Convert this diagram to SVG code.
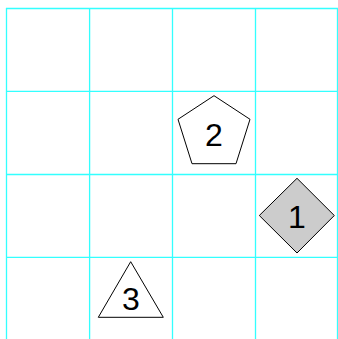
<svg xmlns="http://www.w3.org/2000/svg" width="338" height="339" viewBox="0 0 338 339">
<style>
.grid line{stroke:#33ffff;stroke-width:1.3}
.shape{stroke:#000;stroke-width:1}
.lbl{font-family:"Liberation Sans",Arial,sans-serif;font-size:32px;text-anchor:middle;fill:#000}
</style>
<rect width="338" height="339" fill="#fff"/>
<g class="grid">
<line x1="6.5" y1="8" x2="6.5" y2="339"/>
<line x1="89.6" y1="8" x2="89.6" y2="339"/>
<line x1="172.5" y1="8" x2="172.5" y2="339"/>
<line x1="255.5" y1="8" x2="255.5" y2="339"/>
<line x1="337.5" y1="8" x2="337.5" y2="339"/>
<line x1="6" y1="8.5" x2="338" y2="8.5"/>
<line x1="6" y1="91.3" x2="338" y2="91.3"/>
<line x1="6" y1="174.5" x2="338" y2="174.5"/>
<line x1="6" y1="257.3" x2="338" y2="257.3"/>
</g>
<g id="connectors"></g>
<g id="node1">
<polygon class="shape" fill="#cccccc" points="297,178.3 334.3,215.5 297,253 259.3,215.5"/>
<text class="lbl" x="297" y="228">1</text>
</g>
<g id="node2">
<polygon class="shape" fill="#fff" points="214,95.7 250,119.3 236,163.7 192,163.7 178,119.3"/>
<text class="lbl" x="214" y="146">2</text>
</g>
<g id="node3">
<polygon class="shape" fill="#fff" points="130.7,261.7 163.3,317.3 98.3,317.3"/>
<text class="lbl" x="131" y="309.7">3</text>
</g>
</svg>
